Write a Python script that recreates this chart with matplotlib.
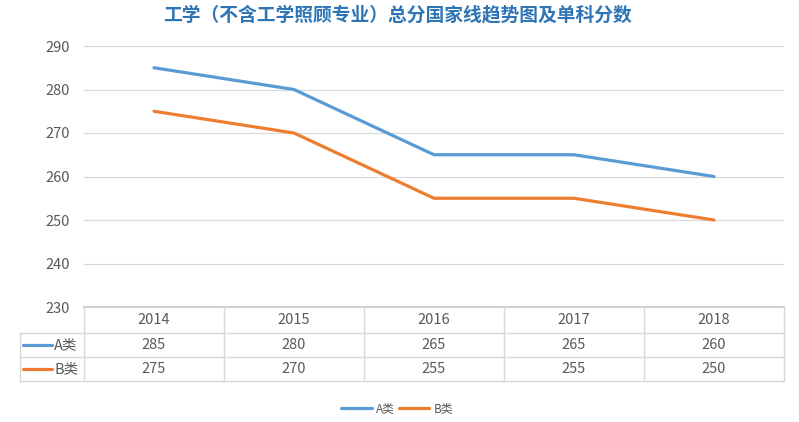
import matplotlib
matplotlib.use('Agg')
from matplotlib import pyplot as plt
from matplotlib.lines import Line2D

plt.rcParams['font.family'] = ['Noto Sans CJK SC', 'DejaVu Sans']

# data
years = ['2014', '2015', '2016', '2017', '2018']
a_scores = [285, 280, 265, 265, 260]
b_scores = [275, 270, 255, 255, 250]
series_names = ['A类', 'B类']
title = '工学（不含工学照顾专业）总分国家线趋势图及单科分数'

blue = '#5B9BD5'
orange = '#ED7D31'
grid_c = '#D9D9D9'
text_c = '#595959'

W, H = 799, 422
fig = plt.figure(figsize=(W / 100, H / 100), dpi=100)

# pixel helpers (top-left origin)
def fx(px):
    return px / W

def fy(py):
    return 1 - py / H

left, right, top, bottom = 84, 784, 46, 307
ax = fig.add_axes([fx(left), fy(bottom), fx(right - left), fy(top) - fy(bottom)])

x = list(range(len(years)))
ax.plot(x, a_scores, color=blue, linewidth=2.3, label=series_names[0], solid_capstyle='round')
ax.plot(x, b_scores, color=orange, linewidth=2.3, label=series_names[1], solid_capstyle='round')

ax.set_xlim(-0.5, len(years) - 0.5)
ax.set_ylim(230, 290)
ax.set_yticks(range(230, 291, 10))
ax.set_xticks([])
ax.yaxis.grid(True, color=grid_c, linewidth=0.9)
ax.set_axisbelow(True)
for s in ['left', 'right', 'top']:
    ax.spines[s].set_visible(False)
ax.spines['bottom'].set_color('#D0D0D0')
ax.spines['bottom'].set_linewidth(1.5)
ax.tick_params(axis='y', length=0, pad=10, labelsize=10.5, labelcolor=text_c)

fig.text(fx(398), fy(15), title, ha='center', va='center', fontsize=13.5,
         fontweight='bold', color='#2E75B6')

# data table under the plot
row_lines = [307, 333, 357, 381]
col_w = (right - left) / len(years)
col_edges = [left + i * col_w for i in range(len(years) + 1)]
lab_left = 20

def hline(y, x0, x1):
    fig.add_artist(Line2D([fx(x0), fx(x1)], [fy(y), fy(y)], color=grid_c, linewidth=1))

def vline(xp, y0, y1):
    fig.add_artist(Line2D([fx(xp), fx(xp)], [fy(y0), fy(y1)], color=grid_c, linewidth=1))

hline(row_lines[1], lab_left, right)
hline(row_lines[2], lab_left, right)
hline(row_lines[3], lab_left, right)
for xp in col_edges:
    vline(xp, row_lines[0], row_lines[3])
vline(lab_left, row_lines[1], row_lines[3])

for i, yr in enumerate(years):
    cx = (col_edges[i] + col_edges[i + 1]) / 2
    fig.text(fx(cx), fy((row_lines[0] + row_lines[1]) / 2), yr, ha='center', va='center',
             fontsize=10.5, color=text_c)
    fig.text(fx(cx), fy((row_lines[1] + row_lines[2]) / 2), str(a_scores[i]), ha='center',
             va='center', fontsize=10.5, color=text_c)
    fig.text(fx(cx), fy((row_lines[2] + row_lines[3]) / 2), str(b_scores[i]), ha='center',
             va='center', fontsize=10.5, color=text_c)

for r, (name, c) in enumerate(zip(series_names, [blue, orange])):
    cy = (row_lines[r + 1] + row_lines[r + 2]) / 2
    fig.add_artist(Line2D([fx(23), fx(52)], [fy(cy), fy(cy)], color=c, linewidth=2.3,
                          solid_capstyle='round'))
    fig.text(fx(54), fy(cy), name, ha='left', va='center', fontsize=10.5, color=text_c)

fig.legend(loc='center', bbox_to_anchor=(fx(397), fy(409)), ncol=2, frameon=False,
           fontsize=8.5, handlelength=2.6, columnspacing=0.35, handletextpad=0.35,
           labelcolor=text_c)

fig.savefig('out.png', dpi=100)
